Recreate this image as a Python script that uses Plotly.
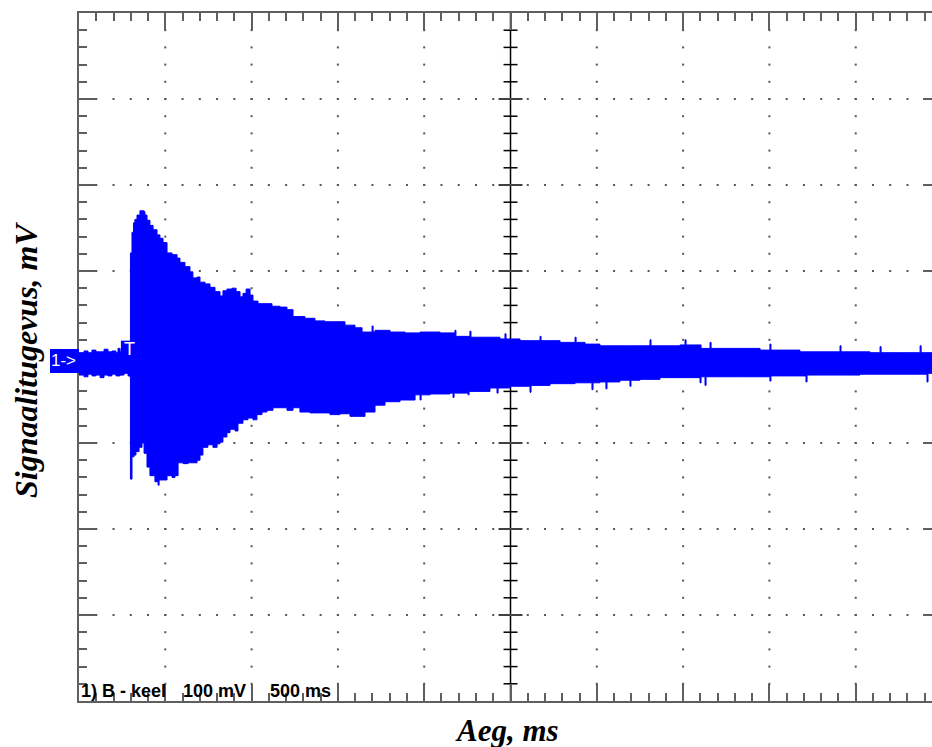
import plotly.graph_objects as go

# Scope settings: 500 ms per division (10 divisions), 100 mV per division (8 divisions)
MS_PER_DIV = 500
MV_PER_DIV = 100
X_MAX = 4942  # visible part of the time window, ms

# Upper envelope of the recorded signal (time in ms, amplitude in mV)
T_UPPER = [0, 29, 52, 75, 98, 122, 145, 168, 191, 214, 226, 238, 261, 284, 295,
           298, 307, 316, 324, 336, 353, 377, 382, 394, 411, 429, 452, 469, 487, 510,
           539, 568, 585, 614, 643, 660, 684, 701, 730, 759, 788, 817, 834, 857, 886,
           910, 933, 950, 968, 991, 1008, 1037, 1078, 1118, 1165, 1205, 1240, 1309,
           1367, 1425, 1483, 1541, 1599, 1640, 1698, 1704, 1715, 1802, 1889, 1976,
           2092, 2178, 2184, 2265, 2271, 2323, 2439, 2468, 2474, 2555, 2671, 2677,
           2787, 2874, 2880, 2932, 3018, 3192, 3308, 3314, 3366, 3482, 3511, 3517,
           3604, 3656, 3662, 3714, 3946, 4003, 4009, 4177, 4409, 4415, 4583, 4641,
           4647, 4757, 4873, 4879, 4942]
V_UPPER = [5, 7, 5, 8, 6, 6, 9, 6, 7, 5, 10, 6, 8, 6, 6,
           121, 145, 156, 160, 165, 170, 169, 165, 159, 153, 148, 142, 138, 133, 121,
           119, 115, 110, 105, 99, 92, 93, 87, 85, 81, 76, 71, 77, 79, 80,
           76, 70, 74, 79, 72, 65, 62, 62, 59, 58, 55, 47, 45,
           42, 41, 41, 37, 34, 29, 36, 29, 31, 29, 28, 29,
           28, 31, 24, 30, 23, 23, 21, 27, 21, 19, 24, 19,
           17, 23, 17, 15, 13, 13, 20, 13, 13, 14, 20, 14,
           10, 17, 10, 10, 8, 15, 8, 6, 13, 6, 5, 12,
           5, 5, 13, 5, 5]

# Lower envelope of the recorded signal (time in ms, amplitude in mV)
T_LOWER = [0, 29, 52, 75, 98, 122, 145, 168, 191, 214, 238, 261, 284, 295,
           298, 307, 319, 330, 348, 365, 377, 394, 411, 440, 458, 464, 481, 510,
           539, 556, 574, 603, 632, 655, 684, 701, 718, 747, 776, 800, 817, 834,
           857, 875, 904, 921, 950, 979, 1008, 1031, 1060, 1089, 1124, 1165, 1205,
           1240, 1280, 1338, 1396, 1454, 1512, 1570, 1599, 1657, 1715, 1773, 1860,
           1947, 1976, 1982, 2034, 2149, 2167, 2173, 2254, 2260, 2381, 2422, 2428,
           2497, 2613, 2619, 2729, 2874, 2972, 2978, 3018, 3053, 3059, 3134, 3192,
           3198, 3250, 3366, 3598, 3604, 3627, 3633, 3830, 4003, 4009, 4061, 4212,
           4218, 4293, 4525, 4757, 4913, 4919, 4942]
V_LOWER = [-21, -23, -20, -22, -21, -24, -21, -22, -20, -22, -21, -19, -22, -23,
           -142, -116, -114, -110, -105, -100, -112, -128, -138, -145, -149, -143, -143, -138,
           -140, -138, -123, -124, -123, -123, -120, -114, -105, -102, -105, -101, -99, -93,
           -88, -84, -86, -77, -73, -71, -73, -67, -64, -62, -59, -59, -62,
           -59, -64, -65, -65, -67, -66, -69, -69, -64, -56, -52, -50,
           -44, -50, -44, -43, -42, -47, -42, -44, -40, -36, -42, -36,
           -34, -41, -33, -31, -30, -38, -30, -29, -37, -29, -27, -34,
           -27, -26, -24, -30, -23, -33, -23, -23, -28, -22, -22, -29,
           -21, -21, -20, -20, -29, -19, -19]

TRIGGER_T = 295  # ms
CHANNEL_LABEL = "1) B - keel"
VOLT_LABEL = "100 mV"
TIME_LABEL = "500 ms"

BLUE = "#0000ff"
FRAME = "#5f5f5f"

Y_MIN, Y_MAX = -4 * MV_PER_DIV, 4 * MV_PER_DIV
px_x = X_MAX / 853.0   # ms per pixel
px_y = (Y_MAX - Y_MIN) / 688.0  # mV per pixel

fig = go.Figure()

# dotted graticule along the major divisions
gx, gy = [], []
for k in range(1, 10):
    t = k * MS_PER_DIV
    if t == 5 * MS_PER_DIV:
        continue
    for j in range(-19, 20):
        gx.append(t)
        gy.append(j * MV_PER_DIV / 5)
for k in (-3, -2, -1, 1, 2, 3):
    v = k * MV_PER_DIV
    for j in range(1, 50):
        gx.append(j * MS_PER_DIV / 5)
        gy.append(v)
fig.add_trace(go.Scatter(x=gx, y=gy, mode="markers", hoverinfo="skip",
                         marker=dict(symbol="square", size=2, color="#555555",
                                     line=dict(width=0)),
                         showlegend=False))

# signal band
fig.add_trace(go.Scatter(x=T_LOWER, y=V_LOWER, mode="lines", line_shape="hv",
                         line=dict(color=BLUE, width=1), showlegend=False))
fig.add_trace(go.Scatter(x=T_UPPER, y=V_UPPER, mode="lines", line_shape="hv",
                         line=dict(color=BLUE, width=1), fill="tonexty",
                         fillcolor=BLUE, showlegend=False))

shapes = []
# centre vertical axis with its ticks
tc = 5 * MS_PER_DIV
shapes.append(dict(type="line", x0=tc, x1=tc, y0=Y_MIN, y1=Y_MAX, xref="x", yref="y",
                   line=dict(color="#000000", width=1.5), layer="below"))
for j in range(-19, 20):
    v = j * MV_PER_DIV / 5
    half = (12 if j % 5 == 0 else 7) * px_x
    shapes.append(dict(type="line", x0=tc - half, x1=tc + half, y0=v, y1=v,
                       xref="x", yref="y", line=dict(color="#000000", width=1.5),
                       layer="below"))
# major ticks on the right border
for k in (-3, -2, -1, 1, 2, 3):
    v = k * MV_PER_DIV
    shapes.append(dict(type="line", x0=X_MAX - 9 * px_x, x1=X_MAX, y0=v, y1=v,
                       xref="x", yref="y", line=dict(color=FRAME, width=2)))
# channel marker box
shapes.append(dict(type="rect", xref="paper", yref="paper", x0=-0.034, x1=0,
                   y0=0.4767, y1=0.5116, fillcolor=BLUE, line=dict(width=0)))
# trigger marker box
shapes.append(dict(type="rect", xref="x", yref="y", x0=TRIGGER_T - 9 * px_x,
                   x1=TRIGGER_T + 6 * px_x, y0=-1, y1=19, fillcolor=BLUE,
                   line=dict(width=0)))

annotations = [
    dict(text="1->", xref="paper", yref="paper", x=-0.0176, y=0.4942,
         showarrow=False, font=dict(family="Liberation Sans", size=17, color="white"),
         xanchor="center", yanchor="middle"),
    dict(text="T", xref="x", yref="y", x=TRIGGER_T, y=9, showarrow=False,
         font=dict(family="Liberation Sans", size=18, color="white"),
         xanchor="center", yanchor="middle"),
    dict(text="<b>" + CHANNEL_LABEL + "</b>", xref="paper", yref="paper", x=0, y=0.0145,
         showarrow=False, font=dict(family="Liberation Sans", size=18, color="black"),
         xanchor="left", yanchor="middle"),
    dict(text="<b>" + VOLT_LABEL + "</b>", xref="paper", yref="paper", x=0.1196, y=0.0145,
         showarrow=False, font=dict(family="Liberation Sans", size=18, color="black"),
         xanchor="left", yanchor="middle"),
    dict(text="<b>" + TIME_LABEL + "</b>", xref="paper", yref="paper", x=0.2216, y=0.0145,
         showarrow=False, font=dict(family="Liberation Sans", size=18, color="black"),
         xanchor="left", yanchor="middle"),
    dict(text="<b><i>Aeg, ms</i></b>", xref="paper", yref="paper", x=0.5018, y=-0.0436,
         showarrow=False, font=dict(family="Liberation Serif", size=31, color="black"),
         xanchor="center", yanchor="middle"),
    dict(text="<b><i>Signaalitugevus, mV</i></b>", xref="paper", yref="paper",
         x=-0.063, y=0.496, textangle=-90, showarrow=False,
         font=dict(family="Liberation Serif", size=32, color="black"),
         xanchor="center", yanchor="middle"),
]

fig.update_layout(
    width=932, height=747,
    margin=dict(l=79, r=0, t=13, b=46),
    paper_bgcolor="white", plot_bgcolor="white",
    shapes=shapes, annotations=annotations,
    xaxis=dict(range=[0, X_MAX], showgrid=False, zeroline=False,
               showline=True, linecolor=FRAME, linewidth=2, mirror="ticks",
               ticks="inside", ticklen=17, tickwidth=2, tickcolor=FRAME,
               tick0=0, dtick=MS_PER_DIV, showticklabels=False, layer="below traces",
               minor=dict(ticks="inside", ticklen=8, tickwidth=2, tickcolor=FRAME,
                          dtick=MS_PER_DIV / 5, showgrid=False)),
    yaxis=dict(range=[Y_MIN, Y_MAX], showgrid=False, zeroline=False,
               showline=True, linecolor=FRAME, linewidth=2, mirror=False,
               ticks="inside", ticklen=17, tickwidth=2, tickcolor=FRAME,
               tick0=0, dtick=MV_PER_DIV, showticklabels=False, layer="below traces",
               minor=dict(ticks="inside", ticklen=8, tickwidth=2, tickcolor=FRAME,
                          dtick=MV_PER_DIV / 5, showgrid=False)),
)

fig.write_html("out.html")
